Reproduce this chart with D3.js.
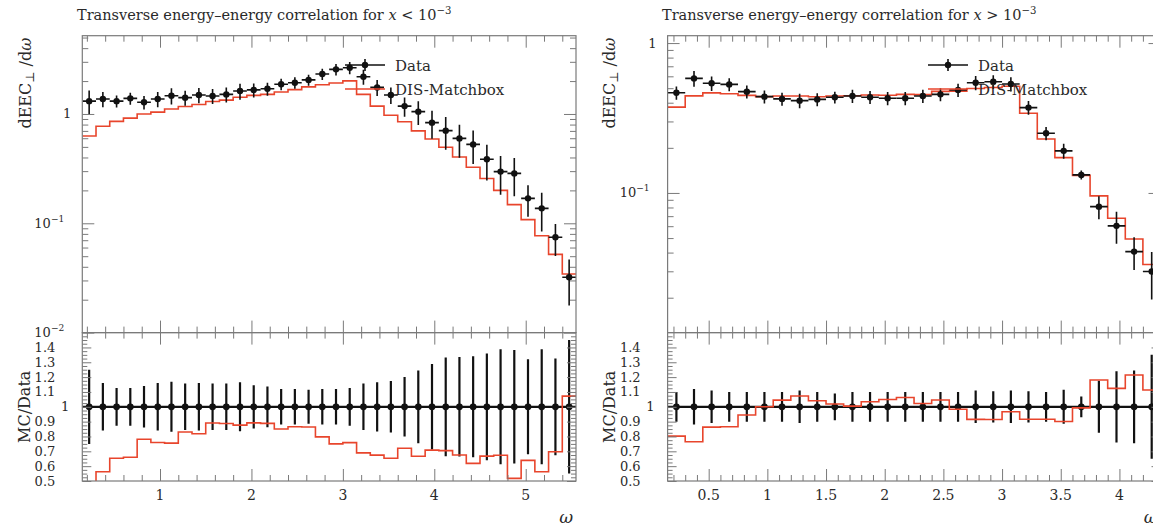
<!DOCTYPE html>
<html><head><meta charset="utf-8">
<script src="https://cdn.jsdelivr.net/npm/d3@7"></script>
<style>
body{margin:0;background:#fff;overflow:hidden;}
svg text{font-family:"DejaVu Serif","Liberation Serif",serif;fill:#2a2a2a;}
</style></head><body>
<svg id="c" width="1153" height="527"></svg>
<script>
// Transverse energy-energy correlation, x < 1e-3 (low) and x > 1e-3 (high)
const omegaLow = [0.225,0.375,0.525,0.675,0.825,0.975,1.125,1.275,1.425,1.575,1.725,1.875,2.025,2.175,2.325,2.475,2.625,2.775,2.925,3.075,3.225,3.375,3.525,3.675,3.825,3.975,4.125,4.275,4.425,4.575,4.725,4.875,5.025,5.175,5.325,5.475];
const dataLow = [1.31,1.37,1.31,1.39,1.28,1.37,1.47,1.41,1.49,1.46,1.51,1.62,1.66,1.70,1.87,1.93,2.05,2.32,2.56,2.65,2.19,1.75,1.49,1.18,1.05,0.833,0.704,0.598,0.527,0.385,0.297,0.286,0.169,0.137,0.0744,0.0321];
const relErrLow = [0.25,0.16,0.127,0.127,0.14,0.16,0.168,0.157,0.16,0.157,0.157,0.165,0.146,0.137,0.12,0.12,0.115,0.12,0.12,0.127,0.157,0.166,0.174,0.2,0.245,0.288,0.333,0.335,0.34,0.36,0.387,0.382,0.32,0.387,0.326,0.45];
const mcLow = [0.629,0.771,0.856,0.917,1.00,1.04,1.11,1.17,1.22,1.30,1.34,1.42,1.48,1.51,1.59,1.67,1.77,1.85,1.92,2.01,1.51,1.18,0.973,0.85,0.70,0.59,0.496,0.404,0.326,0.257,0.20,0.148,0.108,0.077,0.0519,0.0344];

const omegaHigh = [0.225,0.375,0.525,0.675,0.825,0.975,1.125,1.275,1.425,1.575,1.725,1.875,2.025,2.175,2.325,2.475,2.625,2.775,2.925,3.075,3.225,3.375,3.525,3.675,3.825,3.975,4.125,4.275];
const dataHigh = [0.466,0.581,0.539,0.530,0.474,0.439,0.424,0.413,0.421,0.435,0.443,0.435,0.428,0.428,0.443,0.455,0.486,0.544,0.552,0.533,0.371,0.250,0.191,0.132,0.081,0.0603,0.0406,0.0299];
const relErrHigh = [0.1,0.12,0.11,0.1,0.1,0.1,0.1,0.11,0.1,0.09,0.1,0.1,0.1,0.1,0.1,0.1,0.1,0.11,0.105,0.11,0.105,0.1,0.115,0.07,0.175,0.24,0.245,0.35];
const mcHigh = [0.374,0.444,0.465,0.459,0.448,0.439,0.443,0.443,0.438,0.443,0.445,0.450,0.449,0.455,0.453,0.476,0.478,0.498,0.505,0.515,0.340,0.229,0.172,0.131,0.0956,0.0678,0.0493,0.0333];

const binHalfWidth = 0.075;
const xTicksLow = [1,2,3,4,5];
const xTicksHigh = [0.5,1,1.5,2,2.5,3,3.5,4];
const ratioTicks = [0.5,0.6,0.7,0.8,0.9,1,1.1,1.2,1.3,1.4];
const legendNames = ["Data","DIS-Matchbox"];

const RED = "#e8452c", FRAME = "#7a7a7a";
const TOP = 35.7, MID = 332.6, BOT = 481;

const panels = [
  {title:"<", omega:omegaLow, data:dataLow, err:relErrLow, mc:mcLow,
   left:82.3, right:576, xDomain:[0.15,5.55], yDomain:[0.01,5.2],
   xMajor:xTicksLow, xMinorStep:0.2, yMajor:[1,0.1,0.01],
   titleX:77, yTitleX:31, ratioTitleX:30, legX:345},
  {title:">", omega:omegaHigh, data:dataHigh, err:relErrHigh, mc:mcHigh,
   left:667.6, right:1160.5, xDomain:[0.15,4.35], yDomain:[0.0117,1.12],
   xMajor:xTicksHigh, xMinorStep:0.1, yMajor:[1,0.1],
   titleX:662, yTitleX:615, ratioTitleX:615, legX:928}
];

const svg = d3.select("#c");
const defs = svg.append("defs");

function supText(sel, base, exp){
  sel.text(base);
  sel.append("tspan").attr("dy",-6).attr("font-size","0.7em").text(exp);
}

panels.forEach((p, pi) => {
  const x = d3.scaleLinear().domain(p.xDomain).range([p.left, p.right]);
  const y = d3.scaleLog().domain(p.yDomain).range([MID, TOP]);
  const r = d3.scaleLinear().domain([0.5,1.5]).range([BOT, MID]);
  const w = p.right - p.left;
  const g = svg.append("g");

  defs.append("clipPath").attr("id","cm"+pi).append("rect")
    .attr("x",p.left).attr("y",TOP).attr("width",w).attr("height",MID-TOP);
  defs.append("clipPath").attr("id","cr"+pi).append("rect")
    .attr("x",p.left).attr("y",MID).attr("width",w).attr("height",BOT-MID);

  // title
  const t = g.append("text").attr("x",p.titleX).attr("y",20).attr("font-size",14.5)
    .text("Transverse energy\u2013energy correlation for ");
  t.append("tspan").attr("font-style","italic").text("x");
  t.append("tspan").text(" " + (p.title === "<" ? "<" : ">") + " 10");
  t.append("tspan").attr("dy",-6).attr("font-size","0.7em").text("\u22123");

  // ---------- main panel ----------
  const mainG = g.append("g").attr("clip-path","url(#cm"+pi+")");
  const stepPts = vals => {
    const pts = [];
    p.omega.forEach((c,i) => { pts.push([x(c-binHalfWidth), vals[i]], [x(c+binHalfWidth), vals[i]]); });
    return pts;
  };
  mainG.append("path")
    .attr("d", d3.line().x(d=>d[0]).y(d=>y(d[1]))(stepPts(p.mc)))
    .attr("fill","none").attr("stroke",RED).attr("stroke-width",1.6);

  const pts = mainG.selectAll("g.pt").data(p.data).join("g");
  pts.append("line")
    .attr("x1",(d,i)=>x(p.omega[i]-binHalfWidth)).attr("x2",(d,i)=>x(p.omega[i]+binHalfWidth))
    .attr("y1",d=>y(d)).attr("y2",d=>y(d)).attr("stroke","#111").attr("stroke-width",1.6);
  pts.append("line")
    .attr("x1",(d,i)=>x(p.omega[i])).attr("x2",(d,i)=>x(p.omega[i]))
    .attr("y1",(d,i)=>y(d*(1+p.err[i]))).attr("y2",(d,i)=>y(Math.max(d*(1-p.err[i]),1e-4)))
    .attr("stroke","#111").attr("stroke-width",1.6);
  pts.append("circle").attr("cx",(d,i)=>x(p.omega[i])).attr("cy",d=>y(d)).attr("r",3.2).attr("fill","#111");

  // legend
  const lg = g.append("g");
  const ly0 = 65, ly1 = 89;
  lg.append("line").attr("x1",p.legX).attr("x2",p.legX+40).attr("y1",ly0).attr("y2",ly0)
    .attr("stroke","#111").attr("stroke-width",1.6);
  lg.append("line").attr("x1",p.legX+20).attr("x2",p.legX+20).attr("y1",ly0-6).attr("y2",ly0+6)
    .attr("stroke","#111").attr("stroke-width",1.6);
  lg.append("circle").attr("cx",p.legX+20).attr("cy",ly0).attr("r",3.2).attr("fill","#111");
  lg.append("line").attr("x1",p.legX).attr("x2",p.legX+40).attr("y1",ly1).attr("y2",ly1)
    .attr("stroke",RED).attr("stroke-width",1.6);
  lg.selectAll("text").data(legendNames).join("text")
    .attr("x",p.legX+50).attr("y",(d,i)=>[ly0,ly1][i]+5.5).attr("font-size",15).text(d=>d);

  // ---------- ratio panel ----------
  const ratioG = g.append("g").attr("clip-path","url(#cr"+pi+")");
  const ratio = p.mc.map((m,i)=>m/p.data[i]);
  ratioG.append("line").attr("x1",p.left).attr("x2",p.right).attr("y1",r(1)).attr("y2",r(1))
    .attr("stroke","#111").attr("stroke-width",2.2);
  ratioG.selectAll("line.eb").data(p.err).join("line").attr("class","eb")
    .attr("x1",(d,i)=>x(p.omega[i])).attr("x2",(d,i)=>x(p.omega[i]))
    .attr("y1",d=>r(1+d)).attr("y2",d=>r(1-d)).attr("stroke","#111").attr("stroke-width",2.2);
  ratioG.selectAll("circle").data(p.omega).join("circle")
    .attr("cx",d=>x(d)).attr("cy",r(1)).attr("r",3.4).attr("fill","#111");
  ratioG.append("path")
    .attr("d", d3.line().x(d=>d[0]).y(d=>r(d[1]))(stepPts(ratio)))
    .attr("fill","none").attr("stroke",RED).attr("stroke-width",1.6);

  // ---------- frames and ticks ----------
  const axG = g.append("g").attr("stroke",FRAME);
  const xMinor = d3.range(Math.ceil(p.xDomain[0]/p.xMinorStep)*p.xMinorStep, p.xDomain[1], p.xMinorStep)
    .filter(v => !p.xMajor.some(m => Math.abs(m-v) < 1e-6));
  const tickAxis = (axis, vals, size, tx, ty) => {
    const a = axG.append("g").attr("transform",`translate(${tx},${ty})`)
      .call(axis.tickValues(vals).tickSize(size).tickFormat(""));
    a.select(".domain").remove();
    a.selectAll("line").attr("stroke",FRAME).attr("stroke-width",1);
  };
  [[TOP,"b"],[MID,"t"],[MID,"b"],[BOT,"t"]].forEach(([yy,dir])=>{
    const mk = dir==="t" ? ()=>d3.axisTop(x) : ()=>d3.axisBottom(x);
    tickAxis(mk(), p.xMajor, 12, 0, yy);
    tickAxis(mk(), xMinor, 6, 0, yy);
  });
  const yAll = y.ticks().filter(v => v >= p.yDomain[0] && v <= p.yDomain[1]);
  const yMinor = yAll.filter(v => !p.yMajor.some(m => Math.abs(Math.log10(m)-Math.log10(v))<1e-6));
  tickAxis(d3.axisRight(y), p.yMajor, 12, p.left, 0);
  tickAxis(d3.axisRight(y), yMinor, 6, p.left, 0);
  tickAxis(d3.axisLeft(y), p.yMajor, 12, p.right, 0);
  tickAxis(d3.axisLeft(y), yMinor, 6, p.right, 0);
  const rMinor = d3.range(0.525, 1.5, 0.025).filter(v => Math.abs(v*10-Math.round(v*10))>1e-6);
  tickAxis(d3.axisRight(r), ratioTicks, 9, p.left, 0);
  tickAxis(d3.axisRight(r), rMinor, 5, p.left, 0);
  tickAxis(d3.axisLeft(r), ratioTicks, 9, p.right, 0);
  tickAxis(d3.axisLeft(r), rMinor, 5, p.right, 0);

  g.append("rect").attr("x",p.left).attr("y",TOP).attr("width",w).attr("height",MID-TOP)
    .attr("fill","none").attr("stroke",FRAME).attr("stroke-width",1.2);
  g.append("rect").attr("x",p.left).attr("y",MID).attr("width",w).attr("height",BOT-MID)
    .attr("fill","none").attr("stroke",FRAME).attr("stroke-width",1.2);

  // ---------- tick labels ----------
  g.selectAll("text.yl").data(p.yMajor).join("text").attr("class","yl")
    .attr("font-size",13).attr("text-anchor","end")
    .attr("x",d => d === 1 ? p.left-11 : p.left-18).attr("y",d=>y(d)+4.5)
    .each(function(d){
      const s = d3.select(this);
      if (d === 1) s.text("1"); else supText(s, "10", "\u2212" + Math.round(-Math.log10(d)));
    });
  g.selectAll("text.rl").data(ratioTicks).join("text").attr("class","rl")
    .attr("font-size",13).attr("text-anchor","end")
    .attr("x",d => d === 1 ? p.left-13 : p.left-27).attr("y",d=>r(d)+4.5)
    .text(d => d === 1 ? "1" : d3.format(".1f")(d));
  g.selectAll("text.xl").data(p.xMajor).join("text").attr("class","xl")
    .attr("font-size",14).attr("text-anchor","middle")
    .attr("x",d=>x(d)).attr("y",500).text(d=>d);

  // axis titles
  const yt = g.append("text").attr("font-size",16).attr("text-anchor","end")
    .attr("transform",`translate(${p.yTitleX},${TOP+2}) rotate(-90)`).text("dEEC");
  yt.append("tspan").attr("dy",3).attr("font-size","0.75em").text("\u22a5");
  yt.append("tspan").attr("dy",-3).text(" /d");
  yt.append("tspan").attr("font-style","italic").text("\u03c9");
  g.append("text").attr("font-size",16).attr("text-anchor","middle")
    .attr("transform",`translate(${p.ratioTitleX},${r(1)}) rotate(-90)`).text("MC/Data");
  g.append("text").attr("font-size",17).attr("font-style","italic").attr("text-anchor","end")
    .attr("x",p.right-3).attr("y",523).text("\u03c9");
});
</script>
</body></html>
